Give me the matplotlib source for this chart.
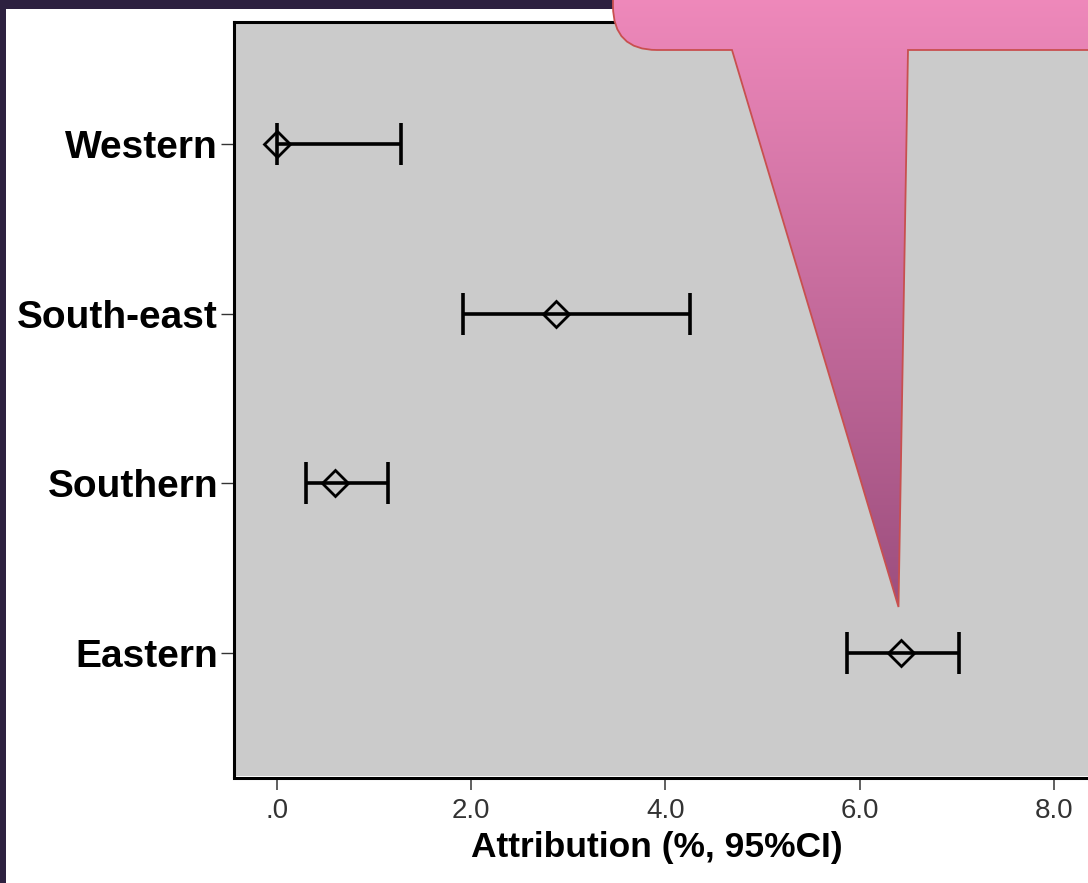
import numpy as np
import matplotlib
matplotlib.use("Agg")
import matplotlib.pyplot as plt
from matplotlib.path import Path
from matplotlib.patches import PathPatch, Rectangle

# data (attribution %, 95% CI)
regions = ["Western", "South-east", "Southern", "Eastern"]
estimate = [0.0, 2.87, 0.60, 6.43]
ci_low = [0.0, 1.92, 0.30, 5.87]
ci_high = [1.28, 4.25, 1.15, 7.02]
xticks = [0, 2, 4, 6, 8]
xtick_labels = [".0", "2.0", "4.0", "6.0", "8.0"]

W, H = 1088, 883
fig = plt.figure(figsize=(W / 100, H / 100), dpi=100)
fig.patch.set_facecolor("#2d2140")
# white slide area inside the dark frame
fig.patches.append(Rectangle((6 / W, 0), 1, (H - 9) / H, transform=fig.transFigure,
                             facecolor="white", edgecolor="none", zorder=-5))

ax = fig.add_axes([234 / W, 107 / H, 1 - 234 / W, (776 - 21.5) / H], zorder=1)
ax.set_facecolor("#cbcbcb")

ypos = np.arange(len(regions), 0, -1)
est = np.array(estimate)
lo = est - np.array(ci_low)
hi = np.array(ci_high) - est
ax.errorbar(est, ypos, xerr=[lo, hi], fmt="none", ecolor="black",
            elinewidth=2.6, capsize=15, capthick=2.6, zorder=3)
ax.plot(est, ypos, "D", mfc="none", mec="black", ms=13, mew=2.0, zorder=4)

ax.set_xlim(-0.44, 8.35)
ax.set_ylim(0.277, 4.72)

for s in ["left", "top", "bottom"]:
    ax.spines[s].set_linewidth(2.2)
    ax.spines[s].set_color("black")
ax.spines["right"].set_visible(False)
ax.spines["bottom"].set_position(("outward", 1.5))

# tick styling first, labels after (spine/tick changes reset label props)
ax.tick_params(axis="y", length=9.5, width=1, color="#333333", pad=2,
               labelsize=28)
ax.tick_params(axis="x", length=8.5, width=1.2, color="#444444", pad=6,
               labelsize=20, labelcolor="#333333")
ax.set_yticks(ypos)
ax.set_yticklabels(regions, fontsize=28, fontweight="bold",
                   family=["Liberation Sans", "DejaVu Sans"])
ax.set_xticks(xticks)
ax.set_xticklabels(xtick_labels, fontsize=20, color="#333333",
                   family=["Liberation Sans", "DejaVu Sans"])

fig.text(657 / W, 1 - 848 / H, "Attribution (%, 95%CI)", ha="center", va="center",
         fontsize=25.5, fontweight="bold", family=["Liberation Sans", "DejaVu Sans"])

# pink callout overlay in pixel coordinates
ov = fig.add_axes([0, 0, 1, 1], zorder=10)
ov.set_xlim(0, W)
ov.set_ylim(H, 0)
ov.axis("off")
ov.patch.set_alpha(0)

r = 44
verts = [(613, -5), (613, 50 - r), (613, 50), (613 + r, 50), (732, 50),
         (898.5, 607), (908, 50), (1095, 50), (1095, -5), (613, -5)]
codes = [Path.MOVETO, Path.LINETO, Path.CURVE3, Path.CURVE3, Path.LINETO,
         Path.LINETO, Path.LINETO, Path.LINETO, Path.LINETO, Path.CLOSEPOLY]
callout = PathPatch(Path(verts, codes), facecolor="none", edgecolor="#c8504f",
                    lw=1.3, zorder=12)
ov.add_patch(callout)

top = np.array([0xef, 0x89, 0xbb]) / 255
bot = np.array([0x9c, 0x4e, 0x7e]) / 255
t = np.linspace(0, 1, 256)[:, None]
grad = (top * (1 - t) + bot * t)[:, None, :]
im = ov.imshow(grad, extent=(605, 1100, 610, -5), aspect="auto", zorder=11,
               interpolation="bilinear")
im.set_clip_path(callout)
ov.set_xlim(0, W)
ov.set_ylim(H, 0)

fig.savefig("out.png", dpi=100, facecolor=fig.get_facecolor())
